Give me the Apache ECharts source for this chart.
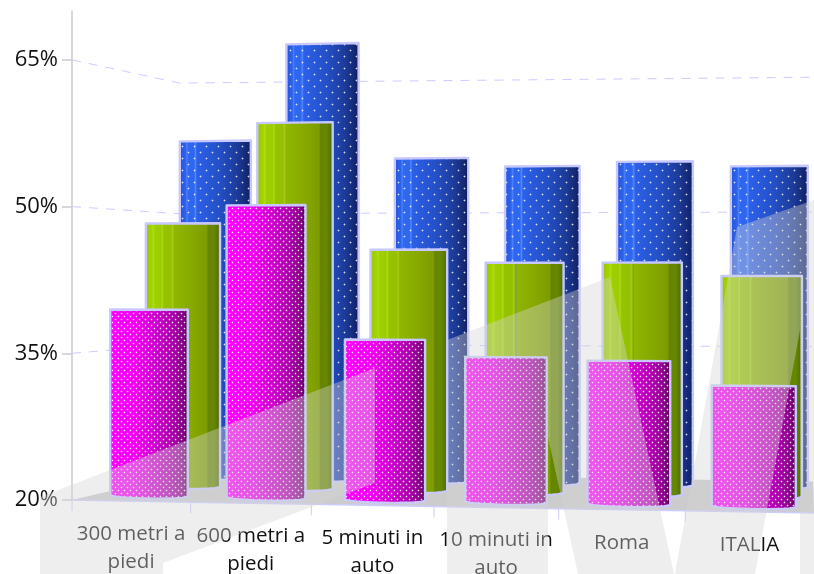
<!DOCTYPE html>
<html>
<head>
<meta charset="utf-8">
<style>html,body{margin:0;padding:0;background:#fff}#chart{width:814px;height:574px}</style>
<script src="https://cdn.jsdelivr.net/npm/echarts@6/dist/echarts.min.js"></script>
</head>
<body>
<div id="chart"></div>
<script>
// Share of trips by distance, three survey series, percent.
const categories = ['300 metri a\npiedi', '600 metri a\npiedi', '5 minuti in\nauto', '10 minuti in\nauto', 'Roma', 'ITALIA'];
const frontValues = [39.4, 50.2, 36.4, 34.7, 34.4, 32.0];
const middleValues = [48.6, 59.4, 45.7, 44.3, 44.3, 42.9];
const backValues = [58.2, 69.0, 56.0, 55.0, 55.4, 54.8];
const yTicks = [20, 35, 50, 65];
const seamedMiddleBars = [3, 4];
const FONT = '"Open Sans", "Noto Sans", sans-serif';

// Perspective model: everything recedes towards one vanishing point.
const VP = { x: 940, y: 272 };
const DEPTH = { front: 0.978, middle: 0.936, back: 0.896, corner: 0.89, wall: 0.87, floorLeft: 0.875 };

function project(plot, u, y, s) {
  const t = (u - plot.x) / plot.width;
  const xf = u - 36 * t * (1 - t);
  const m = 1 + 0.057 * t;
  const yf = VP.y + (y - VP.y) * m;
  return [VP.x + (xf - VP.x) * s, VP.y + (yf - VP.y) * s];
}

// Repeating dot tile: a bright centre with a soft plus-shaped halo.
function dotTile(size, dots, core, halo) {
  const c = document.createElement('canvas');
  c.width = size; c.height = size;
  const g = c.getContext('2d');
  dots.forEach(function (d) {
    g.fillStyle = halo;
    g.fillRect(d[0] - 1, d[1], 3, 1);
    g.fillRect(d[0], d[1] - 1, 1, 3);
    g.fillStyle = core;
    g.fillRect(d[0], d[1], 1, 1);
  });
  return { image: c, repeat: 'repeat' };
}

function hGradient(stops) {
  return new echarts.graphic.LinearGradient(0, 0, 1, 0,
    stops.map(function (p) { return { offset: p[0], color: p[1] }; }));
}

const styles = {
  front: {
    s: DEPTH.front,
    fill: hGradient([[0, '#f000f0'], [0.03, '#ff00ff'], [0.35, '#f000f0'], [0.6, '#cc00cc'], [0.82, '#a800a8'], [0.94, '#860086'], [1, '#4e004e']]),
    dots: dotTile(6, [[1, 1], [4, 4]], 'rgba(255,255,255,0.9)', 'rgba(255,255,255,0.22)')
  },
  middle: {
    s: DEPTH.middle,
    fill: hGradient([[0, '#98c800'], [0.08, '#a4d400'], [0.1, '#b0dc18'], [0.12, '#a0d000'], [0.2, '#9ccc00'], [0.22, '#aed818'], [0.24, '#96c400'], [0.34, '#94c000'], [0.36, '#a8cc18'], [0.38, '#90b800'], [0.6, '#88aa00'], [0.82, '#7c9c00'], [0.84, '#668400'], [0.92, '#668800'], [1, '#4e6c00']]),
    dots: null
  },
  back: {
    s: DEPTH.back,
    fill: hGradient([[0, '#2456d8'], [0.08, '#2e62ea'], [0.1, '#4a80ff'], [0.12, '#2e66f0'], [0.2, '#2e66f0'], [0.22, '#5088ff'], [0.24, '#2c60e8'], [0.55, '#2450c8'], [0.8, '#1c3c9c'], [0.9, '#182f80'], [1, '#0e2060']]),
    dots: dotTile(12, [[2, 2], [8, 8]], 'rgba(235,235,245,0.85)', 'rgba(255,255,255,0.28)')
  }
};

// One cylinder per data item: flat top, softly rounded base.
function cylinder(key) {
  const st = styles[key];
  return function (params, api) {
    const plot = params.coordSys;
    const i = api.value(0);
    const top = api.coord([i, api.value(1)]);
    const base = api.coord([i, yTicks[0]]);
    const half = api.size([1, 0])[0] * 0.334;
    const pts = [];
    const baseBulge = 2.5;
    const segs = 14;
    pts.push(project(plot, top[0] - half, top[1], st.s));
    pts.push(project(plot, top[0] + half, top[1], st.s));
    for (let k = segs; k >= 0; k--) {
      const a = k / segs;
      const p = project(plot, base[0] - half + 2 * half * a, base[1], st.s);
      pts.push([p[0], p[1] + baseBulge * Math.pow(Math.sin(Math.PI * a), 0.5)]);
    }
    const children = [{ type: 'polygon', shape: { points: pts }, style: { fill: st.fill } }];
    if (st.dots) {
      children.push({ type: 'polygon', shape: { points: pts }, style: { fill: st.dots } });
    }
    if (key === 'middle' && seamedMiddleBars.indexOf(i) >= 0) {
      const a = project(plot, top[0] - half * 0.22, top[1], st.s);
      const b = project(plot, base[0] - half * 0.22, base[1], st.s);
      children.push({ type: 'line', shape: { x1: a[0], y1: a[1], x2: b[0], y2: b[1] }, style: { stroke: 'rgba(110,140,170,0.8)', lineWidth: 1 } });
    }
    children.push({ type: 'polygon', shape: { points: pts }, style: { fill: 'none', stroke: '#c8c8ff', lineWidth: 2.4, lineJoin: 'round' } });
    return { type: 'group', children: children };
  };
}

function barSeries(name, key, values, z) {
  return {
    type: 'custom', name: name, z: z, clip: false,
    renderItem: cylinder(key),
    encode: { x: 0, y: 1 },
    data: values.map(function (v, i) { return [i, v]; })
  };
}

// Floor slab seen under the bars.
function renderFloor(params, api) {
  const plot = params.coordSys;
  const y = api.coord([0, yTicks[0]])[1];
  const right = plot.x + plot.width;
  return {
    type: 'polygon',
    shape: { points: [
      project(plot, plot.x, y, 1),
      project(plot, plot.x + 14, y, DEPTH.floorLeft),
      project(plot, right - 19, y, DEPTH.wall),
      project(plot, right, y, 1)
    ] },
    style: { fill: '#cccccc' }
  };
}

// Dashed gridline for each tick, running along the side wall and the back wall.
function renderWallLine(params, api) {
  const plot = params.coordSys;
  const y = api.coord([0, api.value(1)])[1];
  const right = plot.x + plot.width;
  return {
    type: 'polyline',
    shape: { points: [
      project(plot, plot.x, y, 1),
      project(plot, plot.x + 14, y, DEPTH.corner),
      project(plot, right - 19, y, DEPTH.wall)
    ] },
    style: { fill: 'none', stroke: '#ccccff', lineWidth: 1, lineDash: [9, 8] }
  };
}

// Slanted category axis: front edge of the floor, tick marks and wrapped names.
function renderCategoryAxis(params, api) {
  const plot = params.coordSys;
  const i = api.value(0);
  const band = api.size([1, 0])[0];
  const c = api.coord([i, yTicks[0]]);
  const l = project(plot, c[0] - band / 2, c[1], 1);
  const r = project(plot, c[0] + band / 2, c[1], 1);
  const m = project(plot, c[0], c[1], 1);
  const kids = [
    { type: 'line', shape: { x1: l[0], y1: l[1], x2: r[0], y2: r[1] }, style: { stroke: '#ccccff', lineWidth: 1.5 } },
    { type: 'line', shape: { x1: l[0], y1: l[1], x2: l[0], y2: l[1] + 11 }, style: { stroke: '#ccccff', lineWidth: 1 } },
    { type: 'text', style: {
      text: categories[i], x: m[0], y: m[1] + 19,
      align: 'center', verticalAlign: 'top', lineHeight: 28,
      font: '20.5px ' + FONT, fill: '#111111'
    } }
  ];
  return { type: 'group', children: kids };
}

const haze = 'rgba(212,212,212,0.4)';
function hazeShape(points) {
  return { type: 'polygon', z: 100, silent: true, shape: { points: points }, style: { fill: haze } };
}

const chart = echarts.init(document.getElementById('chart'), null, { renderer: 'canvas' });
chart.setOption({
  animation: false,
  backgroundColor: '#ffffff',
  grid: { left: 72, right: 0, top: 11, bottom: 74 },
  tooltip: { show: false },
  xAxis: { type: 'category', data: categories, show: false },
  yAxis: {
    type: 'value', min: 20, max: 70,
    splitLine: { show: false },
    axisLine: { show: true, lineStyle: { color: '#cccccc', width: 1.5 } },
    axisTick: { show: true, length: 10, customValues: yTicks, lineStyle: { color: '#cccccc', width: 1.5 } },
    axisLabel: { customValues: yTicks, formatter: '{value}%', fontSize: 22, margin: 14, color: '#111111', fontFamily: FONT }
  },
  series: [
    { type: 'custom', name: 'floor', z: 1, clip: false, renderItem: renderFloor, encode: { x: 0, y: 1 }, data: [[0, yTicks[0]]] },
    { type: 'custom', name: 'walls', z: 2, clip: false, renderItem: renderWallLine, encode: { x: 0, y: 1 }, data: yTicks.slice(1).map(function (v) { return [0, v]; }) },
    { type: 'custom', name: 'axis', z: 3, clip: false, renderItem: renderCategoryAxis, encode: { x: 0, y: 1 }, data: categories.map(function (c, i) { return [i, yTicks[0]]; }) },
    barSeries('back', 'back', backValues, 4),
    barSeries('middle', 'middle', middleValues, 5),
    barSeries('front', 'front', frontValues, 6)
  ],
  // Oversized translucent backdrop lettering laid across the plot.
  graphic: { elements: [
    hazeShape([[40, 497], [375, 368], [375, 483], [163, 563], [163, 574], [40, 574]]),
    hazeShape([[447, 574], [447, 340], [610, 277], [674, 574], [578, 574], [548, 437], [548, 574]]),
    hazeShape([[675, 574], [737, 227], [814, 200], [814, 574], [800, 574], [800, 330], [755, 574]])
  ] }
});
</script>
</body>
</html>
